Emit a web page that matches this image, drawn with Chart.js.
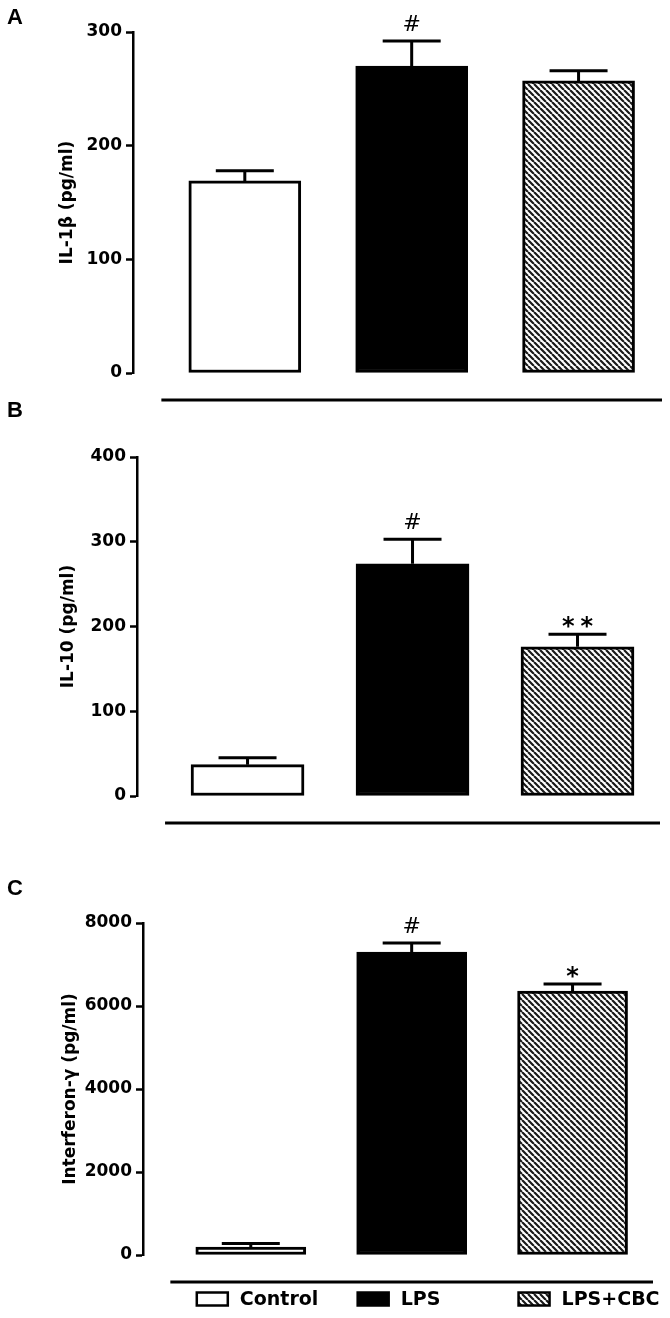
<!DOCTYPE html>
<html>
<head>
<meta charset="utf-8">
<script src="https://cdn.jsdelivr.net/npm/chart.js@4.4.1/dist/chart.umd.min.js"></script>
<style>
  body { margin: 0; background: #fff; }
  #figure { position: relative; width: 670px; height: 1318px; }
  .panel { position: absolute; left: 0; width: 670px; }
  .letter { position: absolute; left: 7px; font: bold 22px "Liberation Sans", Arial, sans-serif; line-height: 22px; color: #000; }
</style>
</head>
<body>
<div id="figure">
  <div class="panel" style="top:0;height:410px"><canvas id="chart-a"></canvas></div>
  <div class="panel" style="top:410px;height:440px"><canvas id="chart-b"></canvas></div>
  <div class="panel" style="top:850px;height:468px"><canvas id="chart-c"></canvas></div>
  <div class="letter" style="top:6px">A</div>
  <div class="letter" style="top:399px">B</div>
  <div class="letter" style="top:877px">C</div>
</div>
<script>
"use strict";

const groups = ['Control', 'LPS', 'LPS+CBC'];

const il1bValues = [169, 270, 257];
const il1bErrors = [9, 22, 9];
const il1bMarks = ['', '#', ''];
const il1bTicks = [0, 100, 200, 300];

const il10Values = [37, 274, 176];
const il10Errors = [8, 29, 15];
const il10Marks = ['', '#', '**'];
const il10Ticks = [0, 100, 200, 300, 400];

const ifngValues = [190, 7300, 6360];
const ifngErrors = [90, 220, 170];
const ifngMarks = ['', '#', '*'];
const ifngTicks = [0, 2000, 4000, 6000, 8000];

Chart.defaults.font.family = '"DejaVu Sans", sans-serif';
Chart.defaults.color = '#000';

const makeHatch = () => {
  const size = 6;
  const tile = document.createElement('canvas');
  tile.width = size;
  tile.height = size;
  const c = tile.getContext('2d');
  c.fillStyle = '#fff';
  c.fillRect(0, 0, size, size);
  c.strokeStyle = '#1a1a1a';
  c.lineWidth = 2.2;
  c.beginPath();
  for (const k of [-1, 0, 1]) {
    c.moveTo(k * size, 0);
    c.lineTo(k * size + size, size);
  }
  c.stroke();
  return c.createPattern(tile, 'repeat');
};

const hatch = makeHatch();
const groupFills = ['#fff', '#000', hatch];

// error bars + significance marks above them
const errorBars = {
  id: 'errorBars',
  afterDatasetsDraw(chart, args, opts) {
    const { ctx } = chart;
    const y = chart.scales.y;
    const meta = chart.getDatasetMeta(0);
    const points = chart.data.datasets[0].data;
    ctx.save();
    ctx.strokeStyle = '#000';
    ctx.lineWidth = 3;
    meta.data.forEach((bar, i) => {
      const err = opts.errors[i];
      const top = y.getPixelForValue(points[i].y + err);
      ctx.beginPath();
      ctx.moveTo(bar.x, bar.y);
      ctx.lineTo(bar.x, top);
      ctx.moveTo(bar.x - opts.capWidth / 2, top);
      ctx.lineTo(bar.x + opts.capWidth / 2, top);
      ctx.stroke();

      const mark = opts.marks[i];
      if (mark) {
        const isStar = mark.includes('*');
        ctx.font = isStar ? 'bold 24px "DejaVu Sans"' : '22px "DejaVu Sans"';
        ctx.letterSpacing = isStar ? '6px' : '0px';
        ctx.textAlign = 'center';
        ctx.textBaseline = 'alphabetic';
        ctx.fillStyle = '#000';
        const m = ctx.measureText(mark);
        const gap = isStar ? 6 : 10;
        ctx.fillText(mark, bar.x + (isStar ? 3 : 0), top - gap - m.actualBoundingBoxDescent);
      }
    });
    ctx.restore();
  },
};

// detached x axis line under the bars
const baseline = {
  id: 'baseline',
  afterDraw(chart, args, opts) {
    const { ctx, chartArea } = chart;
    const x = chart.scales.x;
    const yPos = chartArea.bottom + opts.offset;
    ctx.save();
    ctx.strokeStyle = '#000';
    ctx.lineWidth = 3;
    ctx.beginPath();
    ctx.moveTo(x.getPixelForValue(-0.5), yPos);
    ctx.lineTo(chartArea.right, yPos);
    ctx.stroke();
    ctx.restore();
  },
};

// legend row, one item under each group
const groupLegend = {
  id: 'groupLegend',
  afterDraw(chart, args, opts) {
    if (!opts.display) {
      return;
    }
    const { ctx, chartArea } = chart;
    const x = chart.scales.x;
    const cy = chartArea.bottom + opts.offset;
    ctx.save();
    ctx.font = 'bold 19px "DejaVu Sans"';
    ctx.textAlign = 'left';
    ctx.textBaseline = 'middle';
    groups.forEach((label, i) => {
      const left = x.getPixelForValue(i) - 54;
      ctx.fillStyle = groupFills[i];
      ctx.fillRect(left, cy - 6.5, 31, 13);
      ctx.strokeStyle = '#000';
      ctx.lineWidth = 2.5;
      ctx.strokeRect(left, cy - 6.5, 31, 13);
      ctx.fillStyle = '#000';
      ctx.fillText(label, left + 43, cy + 1);
    });
    ctx.restore();
  },
};

const createPanel = (canvasId, panel) => {
  const canvas = document.getElementById(canvasId);
  const font = { family: '"DejaVu Sans", sans-serif', size: 17, weight: 'bold' };

  return new Chart(canvas, {
    type: 'bar',
    data: {
      datasets: [{
        data: panel.values.map((v, i) => ({ x: i, y: v })),
        backgroundColor: groupFills,
        borderColor: '#000',
        borderWidth: 3,
        borderSkipped: false,
        barThickness: panel.barThickness,
      }],
    },
    options: {
      responsive: true,
      maintainAspectRatio: false,
      animation: false,
      events: [],
      layout: {
        padding: panel.padding,
      },
      scales: {
        x: {
          type: 'linear',
          min: -0.67,
          max: 2.5,
          offset: false,
          display: false,
        },
        y: {
          min: panel.ticks[0],
          max: panel.ticks[panel.ticks.length - 1],
          afterBuildTicks: (scale) => {
            scale.ticks = panel.ticks.map((value) => ({ value }));
          },
          afterFit: (scale) => {
            scale.width = panel.axisWidth;
          },
          ticks: {
            color: '#000',
            font,
            padding: 4,
            callback: (value) => String(value),
          },
          grid: {
            drawOnChartArea: false,
            drawTicks: true,
            tickLength: 7,
            tickWidth: 2.5,
            tickColor: '#000',
          },
          border: {
            color: '#000',
            width: 2.5,
          },
          title: {
            display: true,
            text: panel.title,
            color: '#000',
            font,
            padding: { top: 0, bottom: 4 },
          },
        },
      },
      plugins: {
        legend: { display: false },
        tooltip: { enabled: false },
        errorBars: {
          errors: panel.errors,
          marks: panel.marks,
          capWidth: 58,
        },
        baseline: { offset: 27 },
        groupLegend: { display: !!panel.legend, offset: 44 },
      },
    },
    plugins: [errorBars, baseline, groupLegend],
  });
};

createPanel('chart-a', {
  title: 'IL-1β (pg/ml)',
  values: il1bValues,
  errors: il1bErrors,
  marks: il1bMarks,
  ticks: il1bTicks,
  padding: { left: 57, right: 8, top: 32, bottom: 37 },
  axisWidth: 76,
  barThickness: 112,
});

createPanel('chart-b', {
  title: 'IL-10 (pg/ml)',
  values: il10Values,
  errors: il10Errors,
  marks: il10Marks,
  ticks: il10Ticks,
  padding: { left: 58, right: 10, top: 47, bottom: 54 },
  axisWidth: 79,
  barThickness: 113,
});

createPanel('chart-c', {
  title: 'Interferon-γ (pg/ml)',
  values: ifngValues,
  errors: ifngErrors,
  marks: ifngMarks,
  ticks: ifngTicks,
  padding: { left: 60, right: 17, top: 73, bottom: 63 },
  axisWidth: 83,
  barThickness: 110,
  legend: true,
});
</script>
</body>
</html>
